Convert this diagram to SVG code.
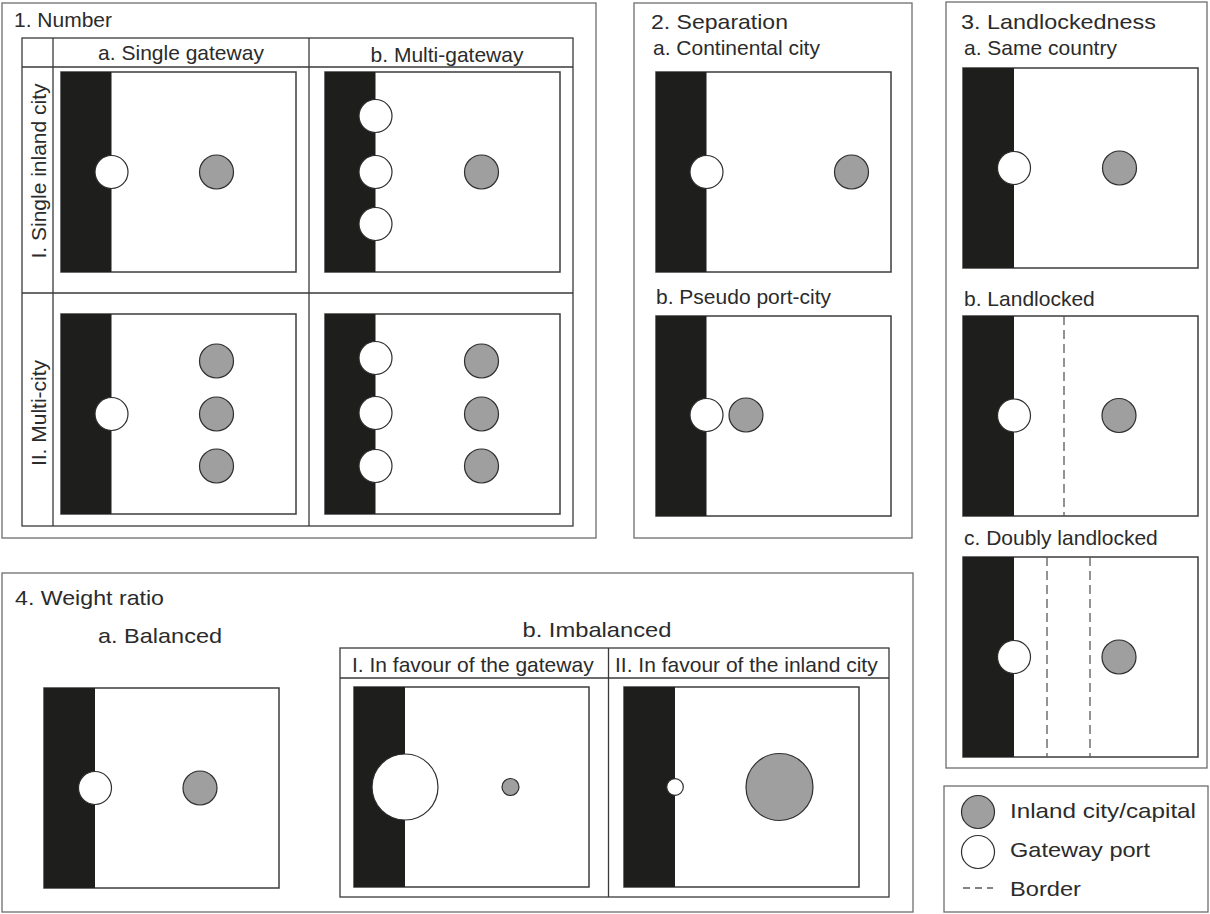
<svg xmlns="http://www.w3.org/2000/svg" width="1210" height="914" viewBox="0 0 1210 914">
<style>
text{font-family:"Liberation Sans",Arial,sans-serif;font-size:21px;fill:#2b2b2b}
.frame{fill:none;stroke:#6e6e6e;stroke-width:1.3}
.tbl{fill:none;stroke:#3a3a3a;stroke-width:1.3}
.map{fill:#fff;stroke:#3c3c3c;stroke-width:1.5}
.sea{fill:#1e1e1c}
.port{fill:#fff;stroke:#2e2e2e;stroke-width:1.2}
.city{fill:#9f9f9f;stroke:#2e2e2e;stroke-width:1.2}
.border{stroke:#5a5a5a;stroke-width:1.3;stroke-dasharray:9 5;fill:none}
</style>
<rect width="1210" height="914" fill="#fff"/>

<g id="section1">
<rect class="frame" x="2" y="3" width="594" height="535"/>
<text x="14" y="27">1. Number</text>
<g class="tbl">
<rect x="22" y="38" width="551" height="488"/>
<line x1="22" y1="67" x2="573" y2="67"/>
<line x1="22" y1="293" x2="573" y2="293"/>
<line x1="53" y1="38" x2="53" y2="526"/>
<line x1="309" y1="38" x2="309" y2="526"/>
</g>
<text x="181" y="60" text-anchor="middle">a. Single gateway</text>
<text x="447" y="62" text-anchor="middle">b. Multi-gateway</text>
<text transform="translate(46,171) rotate(-90)" text-anchor="middle">I. Single inland city</text>
<text transform="translate(46,413) rotate(-90)" text-anchor="middle">II. Multi-city</text>
<g id="map1aI">
<rect class="map" x="61" y="72" width="235" height="200"/>
<rect class="sea" x="61" y="72" width="50.5" height="200"/>
<circle class="port" cx="111.5" cy="172" r="16.5"/>
<circle class="city" cx="216.5" cy="172" r="17"/>
</g>
<g id="map1bI">
<rect class="map" x="325" y="72" width="235" height="200"/>
<rect class="sea" x="325" y="72" width="50.5" height="200"/>
<circle class="port" cx="375.5" cy="116" r="16.5"/>
<circle class="port" cx="375.5" cy="172" r="16.5"/>
<circle class="port" cx="375.5" cy="224" r="16.5"/>
<circle class="city" cx="481.5" cy="172" r="17"/>
</g>
<g id="map1aII">
<rect class="map" x="61" y="314" width="235" height="200"/>
<rect class="sea" x="61" y="314" width="50.5" height="200"/>
<circle class="port" cx="111.5" cy="414" r="16.5"/>
<circle class="city" cx="216.5" cy="361" r="17"/>
<circle class="city" cx="216.5" cy="414" r="17"/>
<circle class="city" cx="216.5" cy="466" r="17"/>
</g>
<g id="map1bII">
<rect class="map" x="325" y="314" width="235" height="200"/>
<rect class="sea" x="325" y="314" width="50.5" height="200"/>
<circle class="port" cx="375.5" cy="358" r="16.5"/>
<circle class="port" cx="375.5" cy="413" r="16.5"/>
<circle class="port" cx="375.5" cy="466" r="16.5"/>
<circle class="city" cx="481.5" cy="361" r="17"/>
<circle class="city" cx="481.5" cy="414" r="17"/>
<circle class="city" cx="481.5" cy="466" r="17"/>
</g>
</g>

<g id="section2">
<rect class="frame" x="634" y="3" width="278" height="535"/>
<text x="651" y="29" textLength="137" lengthAdjust="spacingAndGlyphs">2. Separation</text>
<text x="653" y="55">a. Continental city</text>
<g id="map2a">
<rect class="map" x="656" y="72" width="235" height="200"/>
<rect class="sea" x="656" y="72" width="50.5" height="200"/>
<circle class="port" cx="706.5" cy="172" r="16.5"/>
<circle class="city" cx="851.5" cy="172" r="17"/>
</g>
<text x="656" y="304">b. Pseudo port-city</text>
<g id="map2b">
<rect class="map" x="656" y="316" width="235" height="200"/>
<rect class="sea" x="656" y="316" width="50.5" height="200"/>
<circle class="port" cx="706.5" cy="415" r="16.5"/>
<circle class="city" cx="746" cy="415" r="17"/>
</g>
</g>

<g id="section3">
<rect class="frame" x="946" y="2" width="261" height="766"/>
<text x="961" y="29" textLength="195" lengthAdjust="spacingAndGlyphs">3. Landlockedness</text>
<text x="964" y="55">a. Same country</text>
<g id="map3a">
<rect class="map" x="963" y="68" width="235" height="200"/>
<rect class="sea" x="963" y="68" width="51" height="200"/>
<circle class="port" cx="1014" cy="168" r="16.5"/>
<circle class="city" cx="1119.5" cy="168" r="17"/>
</g>
<text x="964" y="306">b. Landlocked</text>
<g id="map3b">
<rect class="map" x="963" y="316" width="235" height="200"/>
<rect class="sea" x="963" y="316" width="51" height="200"/>
<line class="border" x1="1064" y1="316" x2="1064" y2="516"/>
<circle class="port" cx="1014" cy="415.5" r="16.5"/>
<circle class="city" cx="1119" cy="415.5" r="17"/>
</g>
<text x="964" y="545">c. Doubly landlocked</text>
<g id="map3c">
<rect class="map" x="963" y="557" width="235" height="200"/>
<rect class="sea" x="963" y="557" width="51" height="200"/>
<line class="border" x1="1047" y1="557" x2="1047" y2="757"/>
<line class="border" x1="1090" y1="557" x2="1090" y2="757"/>
<circle class="port" cx="1014" cy="657" r="16.5"/>
<circle class="city" cx="1119" cy="657" r="17"/>
</g>
</g>

<g id="section4">
<rect class="frame" x="2" y="573" width="911" height="339"/>
<text x="15" y="605" textLength="149" lengthAdjust="spacingAndGlyphs">4. Weight ratio</text>
<text x="160" y="643" text-anchor="middle" textLength="124" lengthAdjust="spacingAndGlyphs">a. Balanced</text>
<g id="map4a">
<rect class="map" x="44" y="688" width="235" height="200"/>
<rect class="sea" x="44" y="688" width="51" height="200"/>
<circle class="port" cx="95" cy="788" r="16.5"/>
<circle class="city" cx="200" cy="788" r="17"/>
</g>
<text x="597" y="637" text-anchor="middle" textLength="149" lengthAdjust="spacingAndGlyphs">b. Imbalanced</text>
<g class="tbl">
<rect x="340" y="648" width="549" height="249"/>
<line x1="340" y1="678" x2="889" y2="678"/>
<line x1="608.5" y1="648" x2="608.5" y2="897"/>
</g>
<text x="352" y="672">I. In favour of the gateway</text>
<text x="615" y="672">II. In favour of the inland city</text>
<g id="map4bI">
<rect class="map" x="354" y="687" width="235" height="200"/>
<rect class="sea" x="354" y="687" width="51" height="200"/>
<circle class="port" cx="405" cy="787" r="33"/>
<circle class="city" cx="510.5" cy="787" r="8.5"/>
</g>
<g id="map4bII">
<rect class="map" x="624" y="687" width="235" height="200"/>
<rect class="sea" x="624" y="687" width="51" height="200"/>
<circle class="port" cx="675" cy="787" r="8.3"/>
<circle class="city" cx="779.5" cy="787" r="33.5"/>
</g>
</g>

<g id="legend">
<rect class="frame" x="944" y="786" width="264" height="126"/>
<circle class="city" cx="978" cy="812" r="16.5"/>
<text x="1010" y="818" textLength="186" lengthAdjust="spacingAndGlyphs">Inland city/capital</text>
<circle class="port" cx="978" cy="852" r="16.5"/>
<text x="1010" y="857" textLength="140" lengthAdjust="spacingAndGlyphs">Gateway port</text>
<line stroke="#5a5a5a" stroke-width="1.3" stroke-dasharray="7 5" x1="963" y1="888" x2="993" y2="888"/>
<text x="1010" y="896" textLength="71" lengthAdjust="spacingAndGlyphs">Border</text>
</g>
</svg>
